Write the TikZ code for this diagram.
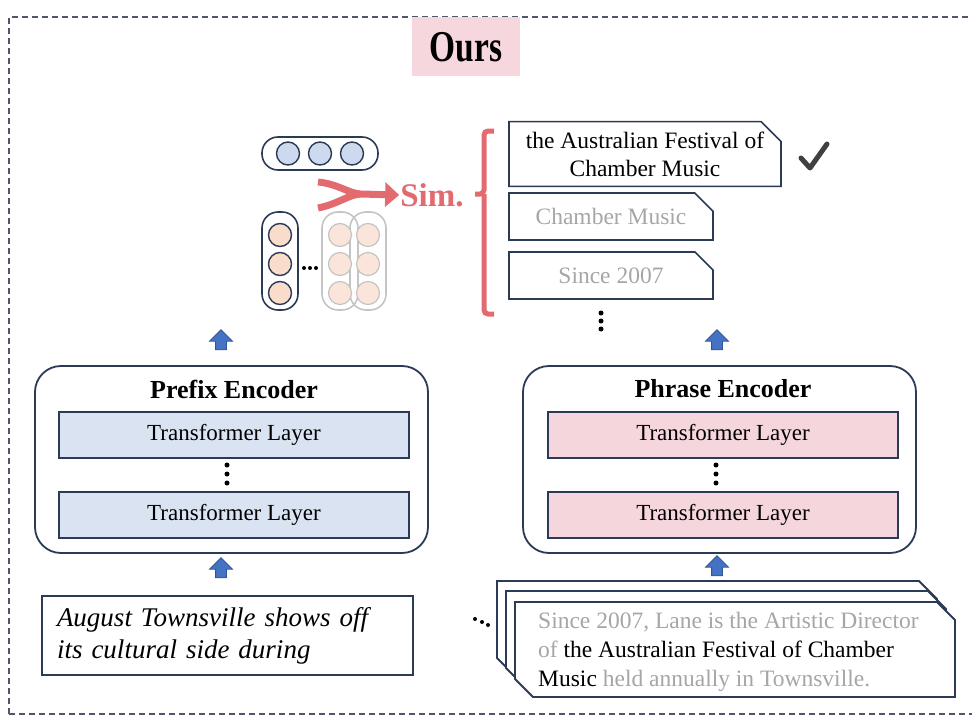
\documentclass[tikz,border=0pt]{standalone}
\usepackage{fontspec}
\setmainfont{Liberation Serif}
\usepackage{graphicx}
\usetikzlibrary{positioning}
\usetikzlibrary{shapes.misc}
\usetikzlibrary{shapes.arrows}
\usetikzlibrary{arrows.meta}
\definecolor{NAVY}{HTML}{2B3A55}
\definecolor{FRAME}{HTML}{4F566B}
\definecolor{BLUE_A}{HTML}{DAE3F2}
\definecolor{BLUE_B}{HTML}{CDD9EE}
\definecolor{PINK_A}{HTML}{F6D6DD}
\definecolor{OURS_BG}{HTML}{F5D7DD}
\definecolor{ORANGE_A}{HTML}{FADCCB}
\definecolor{ORANGE_B}{HTML}{FBE5DA}
\definecolor{SIMRED}{HTML}{E36A6E}
\definecolor{ARROWBLUE}{HTML}{4472C4}
\definecolor{ARROWEDGE}{HTML}{2F5597}
\definecolor{FADED}{HTML}{A6A6A6}
\definecolor{CHECK}{HTML}{404040}
\definecolor{PALEGRAY}{HTML}{C4C4C4}
\tikzset{
	layer/.style = {draw=NAVY, line width=1.6pt, minimum width=350pt, minimum height=46pt, inner sep=0pt, font=\fontsize{23}{28}\selectfont},
	encoder/.style = {draw=NAVY, line width=1.8pt, rounded corners=26pt, minimum width=393pt, minimum height=187pt},
	title/.style = {font=\fontsize{26}{30}\selectfont\bfseries},
	phrase/.style = {chamfered rectangle, chamfered rectangle corners=north east, chamfered rectangle xsep=10pt, chamfered rectangle ysep=10pt, draw=NAVY, line width=1.6pt, inner sep=0pt, align=center, font=\fontsize{23.5}{28}\selectfont},
	uparrow/.style = {single arrow, rotate=90, fill=ARROWBLUE, draw=ARROWEDGE, line width=0.8pt, minimum height=20pt, inner sep=5pt, single arrow head extend=6pt, single arrow head indent=0pt},
	vdot/.style = {circle, fill=black, inner sep=0pt, minimum size=5pt},
	sdot/.style = {circle, fill=black, inner sep=0pt, minimum size=4pt},
	pill/.style = {draw=NAVY, line width=1.6pt, rounded corners=16pt, inner sep=0pt},
	unit/.style = {circle, draw=NAVY, line width=1.4pt, minimum size=23pt, inner sep=0pt},
	fadedunit/.style = {circle, draw=PALEGRAY, fill=ORANGE_B, line width=1.2pt, minimum size=23pt, inner sep=0pt}
}
% one document page, cut at top right and bottom left
\newcommand{\docshape}[2]{\draw[NAVY, line width=1.8pt, fill=white] (#1,#2) -- ++(422,0) -- ++(18,18) -- ++(0,77) -- ++(-422,0) -- ++(-18,-18) -- cycle;}
\begin{document}
\begin{tikzpicture}[x=1pt, y=-1pt]
	\clip (0,0) rectangle (972,717);
	\useasboundingbox (0,0) rectangle (972,717);
	% outline
	\draw[FRAME, line width=2pt, dash pattern=on 6pt off 4pt] (9,714) -- (9,17) -- (990,17) (9,714) -- (990,714);
	\node[fill=OURS_BG, minimum width=108pt, minimum height=59pt, font=\fontsize{44}{48}\selectfont\bfseries] (ours) at (466,47) {\scalebox{0.76}[1]{Ours}};

	% prefix encoder
	\node[encoder] (prefix) at (231.5,459.5) {};
	\node[title] (prefixtitle) at (234,389) {Prefix Encoder};
	\node[layer, fill=BLUE_A] (pl1) at (234,435) {Transformer Layer};
	\node[layer, fill=BLUE_A] (pl2) at (234,515) {Transformer Layer};
	\node[vdot] at (227,465) {};
	\node[vdot] at (227,474) {};
	\node[vdot] at (227,483) {};

	% phrase encoder
	\node[encoder] (phrase) at (719.5,459.5) {};
	\node[title] (phrasetitle) at (723,389) {Phrase Encoder};
	\node[layer, fill=PINK_A] (rl1) at (723,435) {Transformer Layer};
	\node[layer, fill=PINK_A] (rl2) at (723,515) {Transformer Layer};
	\node[vdot] at (716,465) {};
	\node[vdot] at (716,474) {};
	\node[vdot] at (716,483) {};

	% arrows
	\node[uparrow] (up1) at (221,342.5) {};
	\node[uparrow] (up2) at (717,342.5) {};
	\node[uparrow] (up3) at (221,570.5) {};
	\node[uparrow] (up4) at (717,568.5) {};

	% prefix input
	\node[draw=NAVY, line width=1.2pt, minimum width=371pt, minimum height=79pt, text width=341pt, align=left, font=\fontsize{27}{32}\selectfont\itshape] (prefixinput) at (227.5,635.5) {August Townsville shows off\\its cultural side during};

	% documents
	\node[sdot] at (475,619) {};
	\node[sdot] at (482,622) {};
	\node[sdot] at (488,625) {};
	\docshape{497}{581}
	\docshape{506}{591}
	\docshape{515}{602}
	\node[anchor=west, text=FADED, align=left, inner sep=0pt, font=\fontsize{23.5}{29}\selectfont] (doctext) at (538,652) {Since 2007, Lane is the Artistic Director\\of \textcolor{black}{the Australian Festival of Chamber}\\\textcolor{black}{Music} held annually in Townsville.};

	% query vector
	\node[pill, minimum width=116pt, minimum height=33pt] (query) at (320,153.5) {};
	\foreach \x [count=\i] in {288,320,352}
		\node[unit, fill=BLUE_B] (q\i) at (\x,153.5) {};

	% phrase vectors
	\node[pill, minimum width=36pt, minimum height=98pt] (key) at (280,261) {};
	\node[pill, draw=PALEGRAY, minimum width=36pt, minimum height=98pt] (keyb) at (340,261) {};
	\node[pill, draw=PALEGRAY, minimum width=36pt, minimum height=98pt] (keyc) at (368,261) {};
	\foreach \y [count=\i] in {235,264,293} {
		\node[unit, fill=ORANGE_A] (k\i) at (280,\y) {};
		\node[fadedunit] (kb\i) at (340,\y) {};
		\node[fadedunit] (kc\i) at (368,\y) {};
	}
	\node[sdot] at (304,268) {};
	\node[sdot] at (310,268) {};
	\node[sdot] at (316,268) {};

	% similarity
	\node[text=SIMRED, font=\fontsize{33}{36}\selectfont\bfseries, inner sep=1pt] (sim) at (432,195) {Sim.};
	\coordinate (simtop) at (318,182);
	\coordinate (simbot) at (318,208);
	\coordinate (merge) at (360,194);
	\draw[SIMRED, line width=7pt] (simtop) .. controls (338,184) and (348,193) .. (merge);
	\draw[SIMRED, line width=7pt] (simbot) .. controls (338,204) and (348,195) .. (merge);
	\draw[SIMRED, line width=7pt, -{Triangle[length=14pt,width=24pt]}] (merge) -- (sim.west);

	% bracket
	\draw[SIMRED, line width=5pt, rounded corners=4pt] (494,131) -- (484,131) -- (484,194) -- (475,194) (484,194) -- (484,314) -- (494,314);

	% candidate phrases
	\node[phrase, minimum width=272pt, minimum height=60pt] (cand1) at (645,154) {the Australian Festival of\\Chamber Music};
	\node[phrase, text=FADED, minimum width=204pt, minimum height=47pt] (cand2) at (611,216.5) {Chamber Music};
	\node[phrase, text=FADED, minimum width=204pt, minimum height=47pt] (cand3) at (611,275.5) {Since 2007};
	\node[vdot] at (601,313) {};
	\node[vdot] at (601,321) {};
	\node[vdot] at (601,329) {};
	\draw[CHECK, line width=5pt, line cap=round, line join=round] (801,158) -- (810,168) -- (827,144);
\end{tikzpicture}
\end{document}
